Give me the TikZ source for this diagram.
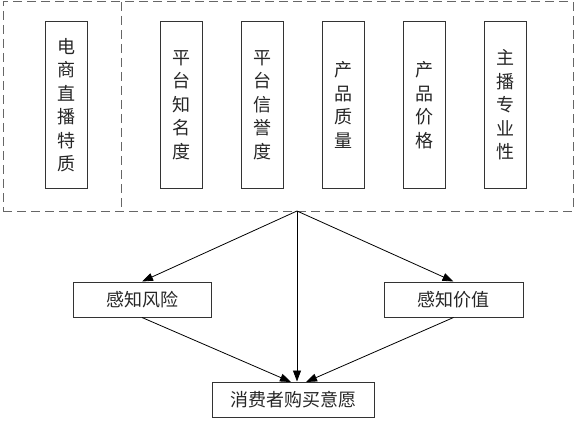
\documentclass[tikz,border=0pt]{standalone}
\usepackage{fontspec}
\newfontfamily\cjk{Noto Sans CJK SC}[Scale=1]
\usetikzlibrary{arrows.meta,calc}
\begin{document}
\begin{tikzpicture}[x=1pt,y=-1pt,
  vbox/.style={draw=black!80,line width=1pt,minimum width=42pt,minimum height=166pt,inner sep=0pt,align=center,font=\cjk\fontsize{18}{23.5}\selectfont,text=black!85},
  hbox/.style={draw=black!80,line width=1pt,minimum height=35pt,inner sep=0pt,font=\cjk\fontsize{18}{22}\selectfont,text=black!85},
  dashbox/.style={draw=black!60,line width=1pt,dash pattern=on 9pt off 5pt},
  arr/.style={draw=black,line width=0.8pt,-{Triangle[length=11pt,width=8pt]}}]
\useasboundingbox (0,0) rectangle (577,422);
\node[dashbox,minimum width=570pt,minimum height=209pt,inner sep=0pt] (group) at (288,106.5) {};
\draw[dashbox] (121,2) -- (121,211);
\node[vbox] (b1) at (66,105) {电\\商\\直\\播\\特\\质};
\node[vbox] (b2) at (181,105) {平\\台\\知\\名\\度};
\node[vbox] (b3) at (262,105) {平\\台\\信\\誉\\度};
\node[vbox] (b4) at (343,105) {产\\品\\质\\量};
\node[vbox] (b5) at (424,105) {产\\品\\价\\格};
\node[vbox] (b6) at (505,105) {主\\播\\专\\业\\性};
\node[hbox,minimum width=138pt] (risk) at (142,299.5) {感知风险};
\node[hbox,minimum width=139pt] (value) at (453.5,299.5) {感知价值};
\node[hbox,minimum width=162pt] (intent) at (293,399.5) {消费者购买意愿};
\coordinate (src) at (297,211);
\coordinate (inL) at (291,382);
\coordinate (inR) at (306,382);
\draw[arr] (src) -- (risk.north);
\draw[arr] (src) -- (value.north);
\draw[arr] (src) -- (src |- intent.north);
\draw[arr] (risk.south) -- (inL);
\draw[arr] (value.south) -- (inR);
\end{tikzpicture}
\end{document}
